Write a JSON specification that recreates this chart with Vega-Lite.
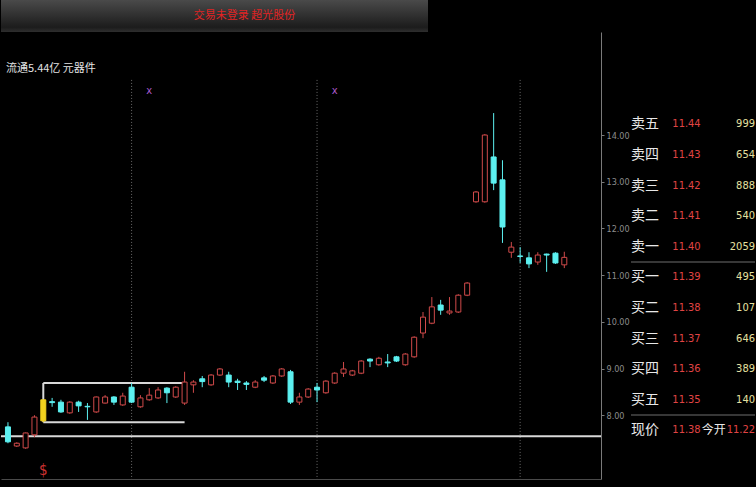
{
  "$schema": "https://vega.github.io/schema/vega-lite/v6.json",
  "background": "#000000",
  "padding": 0,
  "spacing": 0,
  "config": {"view": {"stroke": null}, "concat": {"spacing": 0}},
  "datasets": {
    "candles": [
      {"i":0,"open":7.75,"high":7.85,"low":7.40,"close":7.43},
      {"i":1,"open":7.34,"high":7.42,"low":7.32,"close":7.40},
      {"i":2,"open":7.30,"high":7.63,"low":7.28,"close":7.62},
      {"i":3,"open":7.58,"high":8.00,"low":7.53,"close":7.96},
      {"i":4,"open":7.88,"high":8.33,"low":7.85,"close":8.33,"signal":1},
      {"i":5,"open":8.29,"high":8.37,"low":8.18,"close":8.27},
      {"i":6,"open":8.28,"high":8.33,"low":8.05,"close":8.07},
      {"i":7,"open":8.05,"high":8.30,"low":8.03,"close":8.28},
      {"i":8,"open":8.28,"high":8.31,"low":8.07,"close":8.20},
      {"i":9,"open":8.19,"high":8.26,"low":7.90,"close":8.18},
      {"i":10,"open":8.07,"high":8.40,"low":8.05,"close":8.39},
      {"i":11,"open":8.26,"high":8.43,"low":8.25,"close":8.39},
      {"i":12,"open":8.39,"high":8.41,"low":8.22,"close":8.28},
      {"i":13,"open":8.22,"high":8.48,"low":8.20,"close":8.41},
      {"i":14,"open":8.60,"high":8.69,"low":8.26,"close":8.28},
      {"i":15,"open":8.18,"high":8.43,"low":8.16,"close":8.37},
      {"i":16,"open":8.33,"high":8.58,"low":8.31,"close":8.43},
      {"i":17,"open":8.37,"high":8.60,"low":8.35,"close":8.54},
      {"i":18,"open":8.58,"high":8.60,"low":8.26,"close":8.48},
      {"i":19,"open":8.39,"high":8.62,"low":8.37,"close":8.60},
      {"i":20,"open":8.26,"high":8.93,"low":8.22,"close":8.71},
      {"i":21,"open":8.65,"high":8.75,"low":8.48,"close":8.71},
      {"i":22,"open":8.78,"high":8.84,"low":8.60,"close":8.72},
      {"i":23,"open":8.65,"high":8.88,"low":8.63,"close":8.86},
      {"i":24,"open":8.86,"high":9.01,"low":8.84,"close":8.99},
      {"i":25,"open":8.86,"high":8.93,"low":8.60,"close":8.71},
      {"i":26,"open":8.73,"high":8.78,"low":8.54,"close":8.70},
      {"i":27,"open":8.69,"high":8.73,"low":8.54,"close":8.66},
      {"i":28,"open":8.60,"high":8.75,"low":8.58,"close":8.71},
      {"i":29,"open":8.80,"high":8.84,"low":8.71,"close":8.75},
      {"i":30,"open":8.69,"high":8.86,"low":8.67,"close":8.84},
      {"i":31,"open":8.84,"high":9.01,"low":8.82,"close":8.99},
      {"i":32,"open":8.93,"high":8.97,"low":8.24,"close":8.28},
      {"i":33,"open":8.28,"high":8.48,"low":8.22,"close":8.39},
      {"i":34,"open":8.39,"high":8.58,"low":8.37,"close":8.56},
      {"i":35,"open":8.60,"high":8.69,"low":8.28,"close":8.54},
      {"i":36,"open":8.48,"high":8.75,"low":8.46,"close":8.73},
      {"i":37,"open":8.69,"high":8.92,"low":8.67,"close":8.90},
      {"i":38,"open":8.90,"high":9.14,"low":8.82,"close":8.99},
      {"i":39,"open":8.86,"high":8.97,"low":8.84,"close":8.95},
      {"i":40,"open":8.90,"high":9.18,"low":8.88,"close":9.16},
      {"i":41,"open":9.20,"high":9.22,"low":9.03,"close":9.16},
      {"i":42,"open":9.08,"high":9.25,"low":9.06,"close":9.22},
      {"i":43,"open":9.14,"high":9.31,"low":9.03,"close":9.12},
      {"i":44,"open":9.25,"high":9.27,"low":9.14,"close":9.16},
      {"i":45,"open":9.08,"high":9.33,"low":9.06,"close":9.31},
      {"i":46,"open":9.25,"high":9.69,"low":9.23,"close":9.67},
      {"i":47,"open":9.76,"high":10.21,"low":9.65,"close":10.10},
      {"i":48,"open":9.97,"high":10.53,"low":9.95,"close":10.32},
      {"i":49,"open":10.36,"high":10.47,"low":10.15,"close":10.25},
      {"i":50,"open":10.19,"high":10.53,"low":10.15,"close":10.23},
      {"i":51,"open":10.21,"high":10.59,"low":10.19,"close":10.57},
      {"i":52,"open":10.57,"high":10.85,"low":10.55,"close":10.83},
      {"i":53,"open":12.57,"high":12.80,"low":12.55,"close":12.78},
      {"i":54,"open":12.57,"high":14.02,"low":12.55,"close":14.00},
      {"i":55,"open":13.53,"high":14.47,"low":12.82,"close":12.97},
      {"i":56,"open":13.04,"high":13.46,"low":11.69,"close":12.03},
      {"i":57,"open":11.49,"high":11.71,"low":11.37,"close":11.60},
      {"i":58,"open":11.41,"high":11.60,"low":11.26,"close":11.40},
      {"i":59,"open":11.37,"high":11.49,"low":11.15,"close":11.24},
      {"i":60,"open":11.28,"high":11.49,"low":11.22,"close":11.43},
      {"i":61,"open":11.45,"high":11.46,"low":11.07,"close":11.43},
      {"i":62,"open":11.47,"high":11.49,"low":11.24,"close":11.26},
      {"i":63,"open":11.22,"high":11.50,"low":11.15,"close":11.38}
    ],
    "book": [
      {"name":"卖五","price":11.44,"vol":999},
      {"name":"卖四","price":11.43,"vol":654},
      {"name":"卖三","price":11.42,"vol":888},
      {"name":"卖二","price":11.41,"vol":540},
      {"name":"卖一","price":11.40,"vol":2059},
      {"name":"买一","price":11.39,"vol":495},
      {"name":"买二","price":11.38,"vol":107},
      {"name":"买三","price":11.37,"vol":646},
      {"name":"买四","price":11.36,"vol":389},
      {"name":"买五","price":11.35,"vol":140},
      {"name":"现价","price":11.38,"open":11.22}
    ]
  },
  "vconcat": [
    {
      "width": 427,
      "height": 32,
      "data": {"values": [{"title": "交易未登录  超光股份"}]},
      "layer": [
        {
          "mark": {"type": "rect", "color": {"gradient": "linear", "x1": 0, "y1": 0, "x2": 0, "y2": 1, "stops": [{"offset": 0, "color": "#4a4a4a"}, {"offset": 0.85, "color": "#1c1c1c"}, {"offset": 1, "color": "#2e2e2e"}]}},
          "encoding": {"x": {"value": 0}, "x2": {"value": "width"}, "y": {"value": 0}, "y2": {"value": "height"}}
        },
        {
          "mark": {"type": "text", "color": "#e02424", "font": "Noto Sans CJK SC", "fontSize": 11, "dx": 30},
          "encoding": {"text": {"field": "title"}}
        }
      ]
    },
    {
      "spacing": 0,
      "hconcat": [
        {
          "width": 600,
          "height": 447,
          "layer": [
            {
              "data": {"values": [{"i": 14}, {"i": 35}, {"i": 58}]},
              "mark": {"type": "rule", "color": "#6a6a6a", "strokeDash": [1, 2], "strokeWidth": 1},
              "encoding": {
                "x": {"field": "i", "type": "quantitative", "scale": {"domain": [-0.2227, 66.59], "nice": false, "zero": false},
                      "axis": {"orient": "bottom", "labels": false, "ticks": false, "grid": false, "title": null, "domainColor": "#4a4a4a", "minExtent": 8, "maxExtent": 8}},
                "y": {"datum": 15.18, "type": "quantitative", "scale": {"domain": [6.634, 16.206], "nice": false, "zero": false},
                      "axis": {"orient": "right", "values": [8, 9, 10, 11, 12, 13, 14], "format": ".2f", "grid": false, "title": null,
                               "labelColor": "#8c8c8c", "labelFontSize": 9, "labelFont": "Liberation Sans Narrow, DejaVu Sans Condensed, sans-serif",
                               "domainColor": "#7a7a7a", "tickColor": "#7a7a7a", "tickSize": 3, "labelPadding": 2, "minExtent": 22, "maxExtent": 22}},
                "y2": {"datum": 6.634}
              }
            },
            {
              "data": {"values": [{"level": 7.55}]},
              "mark": {"type": "rule", "color": "#d8d8d8", "strokeWidth": 2},
              "encoding": {"y": {"field": "level", "type": "quantitative"}}
            },
            {
              "data": {"values": [{"start": 4, "end": 20, "top": 8.69, "bottom": 7.85}]},
              "layer": [
                {"mark": {"type": "rule", "color": "#d8d8d8", "strokeWidth": 2},
                 "encoding": {"x": {"field": "start", "type": "quantitative"}, "x2": {"field": "end"}, "y": {"field": "top", "type": "quantitative"}}},
                {"mark": {"type": "rule", "color": "#d8d8d8", "strokeWidth": 2},
                 "encoding": {"x": {"field": "start", "type": "quantitative"}, "x2": {"field": "end"}, "y": {"field": "bottom", "type": "quantitative"}}},
                {"mark": {"type": "rule", "color": "#d8d8d8", "strokeWidth": 2},
                 "encoding": {"x": {"field": "start", "type": "quantitative"}, "y": {"field": "bottom", "type": "quantitative"}, "y2": {"field": "top"}}}
              ]
            },
            {
              "data": {"name": "candles"},
              "mark": {"type": "rule", "strokeWidth": 1},
              "encoding": {
                "x": {"field": "i", "type": "quantitative"},
                "y": {"field": "low", "type": "quantitative"},
                "y2": {"field": "high"},
                "color": {"condition": [{"test": "datum.signal == 1", "value": "#f2d21e"}, {"test": "datum.close > datum.open", "value": "#d04a4a"}], "value": "#5cf0f0"}
              }
            },
            {
              "data": {"name": "candles"},
              "mark": {"type": "bar", "size": 5, "strokeWidth": 1},
              "encoding": {
                "x": {"field": "i", "type": "quantitative"},
                "y": {"field": "open", "type": "quantitative"},
                "y2": {"field": "close"},
                "fill": {"condition": [{"test": "datum.signal == 1", "value": "#f2d21e"}, {"test": "datum.close > datum.open", "value": "#000000"}], "value": "#5cf0f0"},
                "stroke": {"condition": [{"test": "datum.signal == 1", "value": "#f2d21e"}, {"test": "datum.close > datum.open", "value": "#d04a4a"}], "value": "#5cf0f0"}
              }
            },
            {
              "data": {"values": [{"i": 16}, {"i": 37}]},
              "mark": {"type": "text", "text": "x", "color": "#a858c8", "fontSize": 10, "font": "DejaVu Sans"},
              "encoding": {"x": {"field": "i", "type": "quantitative"}, "y": {"datum": 14.94, "type": "quantitative"}}
            },
            {
              "data": {"name": "candles"},
              "transform": [{"filter": "datum.signal == 1"}],
              "mark": {"type": "text", "text": "$", "color": "#c83030", "fontSize": 15, "font": "DejaVu Sans Condensed, sans-serif"},
              "encoding": {"x": {"field": "i", "type": "quantitative"}, "y": {"datum": 6.82, "type": "quantitative"}}
            },
            {
              "data": {"values": [{"info": "流通5.44亿 元器件"}]},
              "mark": {"type": "text", "align": "left", "baseline": "middle", "color": "#e4e4e4", "fontSize": 11, "font": "Noto Sans CJK SC"},
              "encoding": {"x": {"datum": -0.2227, "type": "quantitative"}, "y": {"datum": 15.42, "type": "quantitative"}, "text": {"field": "info"}}
            }
          ]
        },
        {
          "width": 124,
          "height": 447,
          "data": {"name": "book"},
          "encoding": {
            "y": {"field": "name", "type": "nominal", "axis": null,
                  "scale": {"type": "band", "domain": ["卖五","卖四","卖三","卖二","卖一","买一","买二","买三","买四","买五","现价"], "range": [77, 413.6], "paddingInner": 0, "paddingOuter": 0}}
          },
          "layer": [
            {
              "data": {"values": [{"sep": "买一"}, {"sep": "现价"}]},
              "mark": {"type": "rule", "color": "#6e6e6e", "strokeWidth": 1},
              "encoding": {"y": {"field": "sep", "type": "nominal", "bandPosition": 0}}
            },
            {
              "mark": {"type": "text", "align": "left", "baseline": "middle", "color": "#e8e8e8", "fontSize": 14, "font": "Noto Sans CJK SC"},
              "encoding": {
                "x": {"datum": "name", "type": "nominal", "axis": null, "scale": {"type": "point", "domain": ["name", "price", "open", "vol"], "padding": 0}},
                "text": {"field": "name"}
              }
            },
            {
              "mark": {"type": "text", "align": "left", "baseline": "middle", "color": "#e04444", "fontSize": 11, "font": "Liberation Sans Narrow, DejaVu Sans Condensed, sans-serif"},
              "encoding": {"x": {"datum": "price", "type": "nominal"}, "text": {"field": "price", "type": "quantitative", "format": ".2f"}}
            },
            {
              "transform": [{"filter": "isValid(datum.vol)"}],
              "mark": {"type": "text", "align": "right", "baseline": "middle", "color": "#e6e0a0", "fontSize": 11, "font": "Liberation Sans Narrow, DejaVu Sans Condensed, sans-serif"},
              "encoding": {"x": {"datum": "vol", "type": "nominal"}, "text": {"field": "vol", "type": "quantitative", "format": "d"}}
            },
            {
              "transform": [{"filter": "isValid(datum.open)"}],
              "mark": {"type": "text", "text": "今开", "align": "center", "baseline": "middle", "color": "#e8e8e8", "fontSize": 12, "font": "Noto Sans CJK SC"},
              "encoding": {"x": {"datum": "open", "type": "nominal"}}
            },
            {
              "transform": [{"filter": "isValid(datum.open)"}],
              "mark": {"type": "text", "align": "right", "baseline": "middle", "color": "#e04444", "fontSize": 11, "font": "Liberation Sans Narrow, DejaVu Sans Condensed, sans-serif"},
              "encoding": {"x": {"datum": "vol", "type": "nominal"}, "text": {"field": "open", "type": "quantitative", "format": ".2f"}}
            }
          ]
        }
      ]
    }
  ]
}
